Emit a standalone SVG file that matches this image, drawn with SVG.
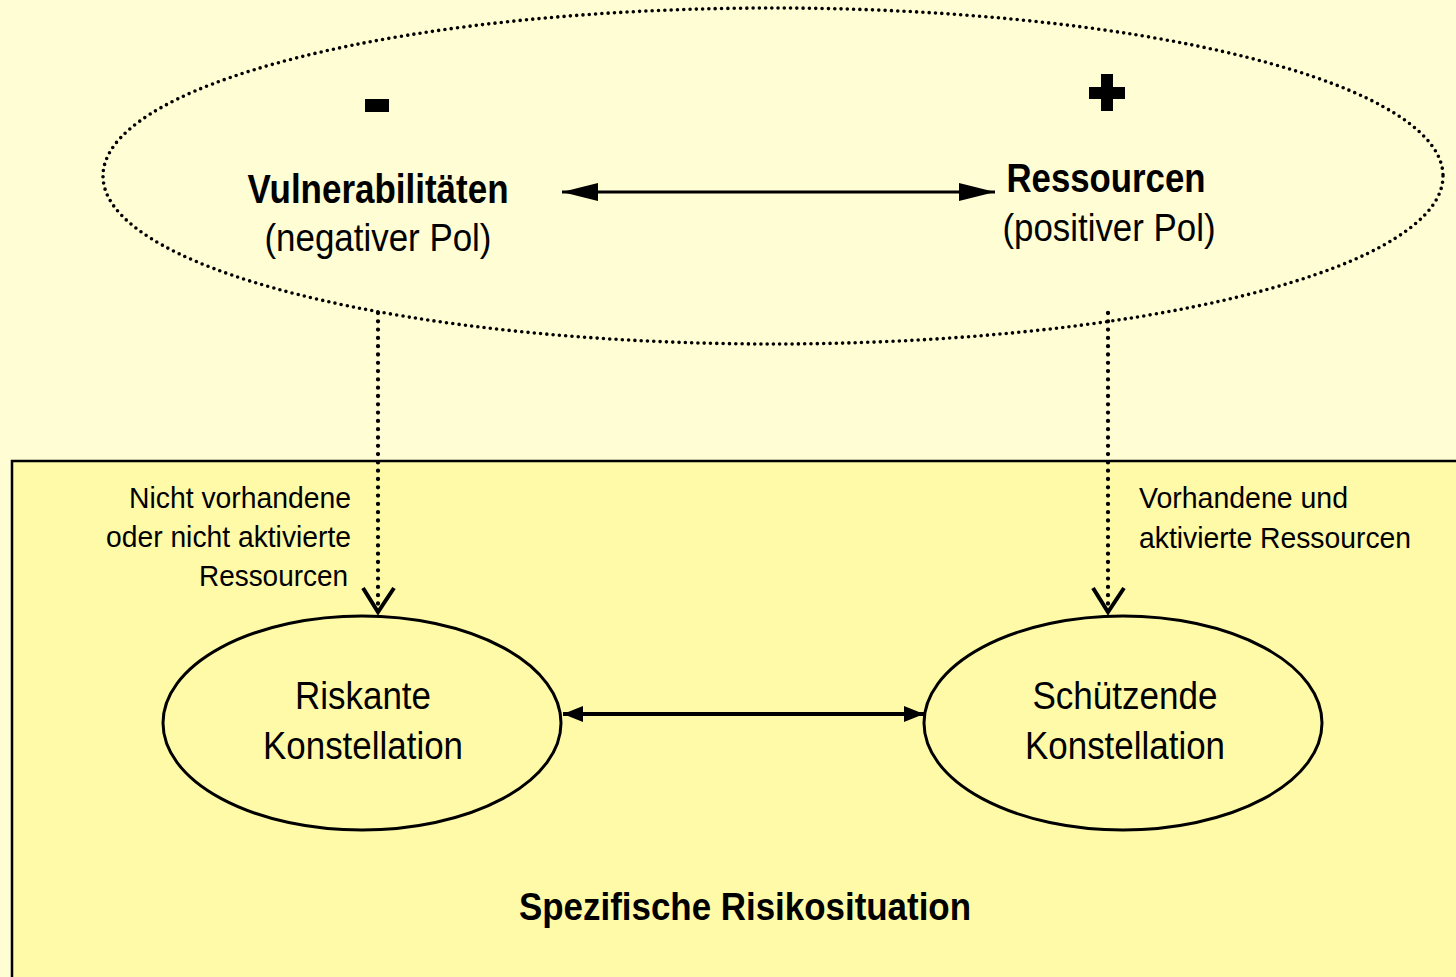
<svg xmlns="http://www.w3.org/2000/svg" width="1456" height="977" viewBox="0 0 1456 977">
<style>
text{font-family:"Liberation Sans Narrow","Liberation Sans",Arial,sans-serif;fill:#000}
.b{font-weight:bold}
.dot{fill:none;stroke:#000;stroke-width:3.6;stroke-linecap:round;stroke-dasharray:0 6.3}
.vdot{fill:none;stroke:#000;stroke-width:4.3;stroke-linecap:round;stroke-dasharray:0 8.3}
.ln{fill:none;stroke:#000}
</style>
<defs>
<marker id="bh" markerWidth="36" markerHeight="18" refX="36" refY="9" orient="auto-start-reverse" markerUnits="userSpaceOnUse" viewBox="0 0 36 18">
<path d="M0,0 L36,9 L0,18 Z" fill="#000"/>
</marker>
<marker id="sh" markerWidth="20" markerHeight="16" refX="20" refY="8" orient="auto-start-reverse" markerUnits="userSpaceOnUse" viewBox="0 0 20 16">
<path d="M0,0 L20,8 L0,16 Z" fill="#000"/>
</marker>
</defs>
<rect x="0" y="0" width="1456" height="977" fill="#FFFDD3"/>
<g id="situation">
<rect x="12" y="461" width="1460" height="530" fill="#FFFAA8" stroke="#000" stroke-width="2.5"/>
<text class="b" x="745" y="920" font-size="38" text-anchor="middle" textLength="452" lengthAdjust="spacingAndGlyphs">Spezifische Risikosituation</text>
</g>
<g id="pole">
<ellipse class="dot" cx="773" cy="176" rx="670" ry="168"/>
<rect x="365" y="99" width="24" height="13" fill="#000"/>
<path d="M1101,74 H1113 V87 H1125 V99 H1113 V111 H1101 V99 H1089 V87 H1101 Z" fill="#000"/>
</g>
<g id="vulnerabilitaeten">
<text class="b" x="378" y="203" font-size="40" text-anchor="middle" textLength="261" lengthAdjust="spacingAndGlyphs">Vulnerabilitäten</text>
<text x="378" y="251" font-size="38" text-anchor="middle" textLength="227" lengthAdjust="spacingAndGlyphs">(negativer Pol)</text>
</g>
<g id="ressourcen">
<text class="b" x="1106" y="192" font-size="40" text-anchor="middle" textLength="199" lengthAdjust="spacingAndGlyphs">Ressourcen</text>
<text x="1109" y="241" font-size="38" text-anchor="middle" textLength="213" lengthAdjust="spacingAndGlyphs">(positiver Pol)</text>
</g>
<g id="riskante">
<ellipse cx="362" cy="723" rx="199" ry="107" fill="#FFFAA8" stroke="#000" stroke-width="3"/>
<text x="363" y="709" font-size="38" text-anchor="middle" textLength="136" lengthAdjust="spacingAndGlyphs">Riskante</text>
<text x="363" y="759" font-size="38" text-anchor="middle" textLength="200" lengthAdjust="spacingAndGlyphs">Konstellation</text>
</g>
<g id="schuetzende">
<ellipse cx="1123" cy="723" rx="199" ry="107" fill="#FFFAA8" stroke="#000" stroke-width="3"/>
<text x="1125" y="709" font-size="38" text-anchor="middle" textLength="185" lengthAdjust="spacingAndGlyphs">Schützende</text>
<text x="1125" y="759" font-size="38" text-anchor="middle" textLength="200" lengthAdjust="spacingAndGlyphs">Konstellation</text>
</g>
<g id="connectors">
<line class="ln" x1="562" y1="192" x2="995" y2="192" stroke-width="3" marker-start="url(#bh)" marker-end="url(#bh)"/>
<line class="ln" x1="563" y1="714" x2="924" y2="714" stroke-width="4" marker-start="url(#sh)" marker-end="url(#sh)"/>
<line class="vdot" x1="378" y1="313" x2="378" y2="610"/>
<path class="ln" d="M363,588 L378,612 L394,588" stroke-width="4"/>
<line class="vdot" x1="1108" y1="313" x2="1108" y2="610"/>
<path class="ln" d="M1093,588 L1108,612 L1124,588" stroke-width="4"/>
<text x="351" y="508" font-size="30" text-anchor="end" textLength="222" lengthAdjust="spacingAndGlyphs">Nicht vorhandene</text>
<text x="351" y="547" font-size="30" text-anchor="end" textLength="245" lengthAdjust="spacingAndGlyphs">oder nicht aktivierte</text>
<text x="348" y="586" font-size="30" text-anchor="end" textLength="149" lengthAdjust="spacingAndGlyphs">Ressourcen</text>
<text x="1139" y="508" font-size="30" textLength="209" lengthAdjust="spacingAndGlyphs">Vorhandene und</text>
<text x="1139" y="548" font-size="30" textLength="272" lengthAdjust="spacingAndGlyphs">aktivierte Ressourcen</text>
</g>
</svg>
